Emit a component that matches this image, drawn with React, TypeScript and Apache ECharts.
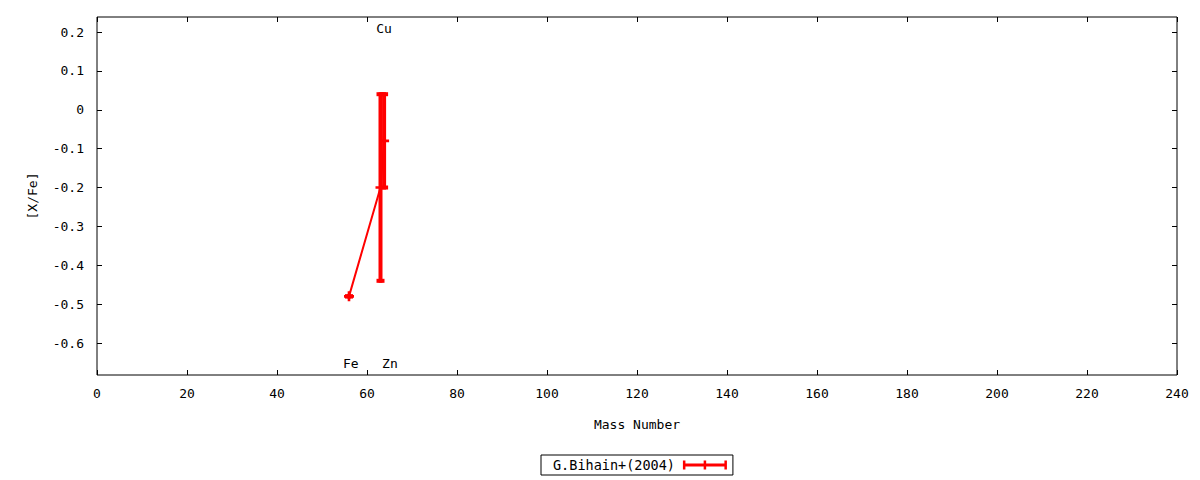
import { useEffect, useRef } from "react";
import * as echarts from "echarts";

// isotope mass numbers and [X/Fe] values
const massNumbers = [56, 63, 63.8];
const xFeValues = [-0.48, -0.2, -0.08];
const xFeErrors = [0, 0.24, 0.12];

// element labels (top/bottom of the frame)
const elementNames = ["Fe", "Cu", "Zn"];
const elementMass = [56.4, 63.8, 65.1];
const elementY = [-0.654, 0.21, -0.654];

const xTicks = [0, 20, 40, 60, 80, 100, 120, 140, 160, 180, 200, 220, 240];
const yTicks = [-0.6, -0.5, -0.4, -0.3, -0.2, -0.1, 0, 0.1, 0.2];

const seriesName = "G.Bihain+(2004)";
const RED = "#ff0000";
const FONT = "DejaVu Sans Mono";

const plusSymbol = "path://M3.5,0 H6 V3.5 H9.5 V6 H6 V9.5 H3.5 V6 H0 V3.5 H3.5 Z";
const legendIcon =
  "path://M0,0 H2.5 V9 H0 Z M41.5,0 H44 V9 H41.5 Z M20.75,0 H23.25 V9 H20.75 Z M0,3 H44 V6 H0 Z";

export default function App() {
  const chartRef = useRef<HTMLDivElement>(null);

  useEffect(() => {
    document.body.style.margin = "0";
    const myChart = echarts.init(chartRef.current!, null, { renderer: "svg" });

    const tickStyle = { show: true, inside: true, length: 5, lineStyle: { color: "#000", width: 1 } };
    const noLine = { show: false, onZero: false };

    const option = {
      animation: false,
      textStyle: { fontFamily: FONT },
      grid: {
        left: 97,
        right: 23,
        top: 17,
        bottom: 105,
        show: true,
        borderColor: "#000",
        borderWidth: 1,
        backgroundColor: "transparent",
      },
      legend: {
        data: [{ name: seriesName, icon: legendIcon }],
        left: 541,
        top: 455,
        align: "right",
        itemWidth: 44,
        itemHeight: 9,
        padding: [3, 6, 3, 12],
        borderColor: "#000",
        borderWidth: 1,
        borderRadius: 0,
        selectedMode: false,
        textStyle: { fontFamily: FONT, fontSize: 13.5, color: "#000", padding: [0, 3, 0, 0] },
      },
      xAxis: [
        {
          type: "value",
          min: 0,
          max: 240,
          interval: 20,
          name: "Mass Number",
          nameLocation: "middle",
          nameGap: 43,
          nameTextStyle: { fontFamily: FONT, fontSize: 13, color: "#000" },
          axisLine: noLine,
          axisTick: tickStyle,
          splitLine: { show: false },
          axisLabel: {
            margin: 12,
            fontFamily: FONT,
            fontSize: 13,
            color: "#000",
            customValues: xTicks,
          },
        },
        {
          type: "value",
          position: "top",
          min: 0,
          max: 240,
          interval: 20,
          axisLine: noLine,
          axisTick: tickStyle,
          splitLine: { show: false },
          axisLabel: { show: false },
        },
      ],
      yAxis: [
        {
          type: "value",
          min: -0.6823,
          max: 0.2386,
          name: "[X/Fe]",
          nameLocation: "middle",
          nameGap: 58,
          nameTextStyle: { fontFamily: FONT, fontSize: 13, color: "#000" },
          axisLine: noLine,
          axisTick: { ...tickStyle, customValues: yTicks },
          splitLine: { show: false },
          axisLabel: {
            margin: 13,
            fontFamily: FONT,
            fontSize: 13,
            color: "#000",
            customValues: yTicks,
            formatter: (v: number) => (Math.abs(v) < 1e-9 ? "0" : v.toFixed(1)),
          },
        },
        {
          type: "value",
          position: "right",
          min: -0.6823,
          max: 0.2386,
          axisLine: noLine,
          axisTick: { ...tickStyle, customValues: yTicks },
          splitLine: { show: false },
          axisLabel: { show: false, customValues: yTicks },
        },
      ],
      series: [
        {
          name: seriesName,
          type: "line",
          data: massNumbers.map((m, i) => [m, xFeValues[i]]),
          symbol: plusSymbol,
          symbolSize: 10,
          showSymbol: true,
          itemStyle: { color: RED },
          lineStyle: { color: RED, width: 2 },
          silent: true,
          z: 3,
        },
        {
          name: seriesName,
          type: "custom",
          data: massNumbers.map((m, i) => [m, xFeValues[i], xFeErrors[i]]),
          encode: { x: 0, y: 1 },
          itemStyle: { color: RED },
          silent: true,
          z: 2,
          renderItem: (_params: any, api: any) => {
            const x = api.value(0);
            const y = api.value(1);
            const e = api.value(2);
            const lo = api.coord([x, y - e]);
            const hi = api.coord([x, y + e]);
            const cap = 4;
            const style = { stroke: RED, lineWidth: 4 };
            return {
              type: "group",
              children: [
                { type: "line", shape: { x1: lo[0], y1: lo[1] + 2, x2: hi[0], y2: hi[1] - 2 }, style },
                { type: "line", shape: { x1: lo[0] - cap, y1: lo[1], x2: lo[0] + cap, y2: lo[1] }, style },
                { type: "line", shape: { x1: hi[0] - cap, y1: hi[1], x2: hi[0] + cap, y2: hi[1] }, style },
              ],
            };
          },
        },
        {
          name: "elements",
          type: "custom",
          data: elementNames.map((n, i) => [elementMass[i], elementY[i]]),
          encode: { x: 0, y: 1 },
          silent: true,
          renderItem: (params: any, api: any) => {
            const p = api.coord([api.value(0), api.value(1)]);
            return {
              type: "text",
              x: p[0],
              y: p[1],
              style: {
                text: elementNames[params.dataIndex],
                fill: "#000",
                font: `13px "${FONT}"`,
                align: "center",
                verticalAlign: "middle",
              },
            };
          },
        },
      ],
    };

    myChart.setOption(option);

    const handleResize = () => myChart.resize();
    window.addEventListener("resize", handleResize);

    return () => {
      window.removeEventListener("resize", handleResize);
      myChart.dispose();
    };
  }, []);

  return <div ref={chartRef} style={{ width: "1200px", height: "480px" }} />;
}
